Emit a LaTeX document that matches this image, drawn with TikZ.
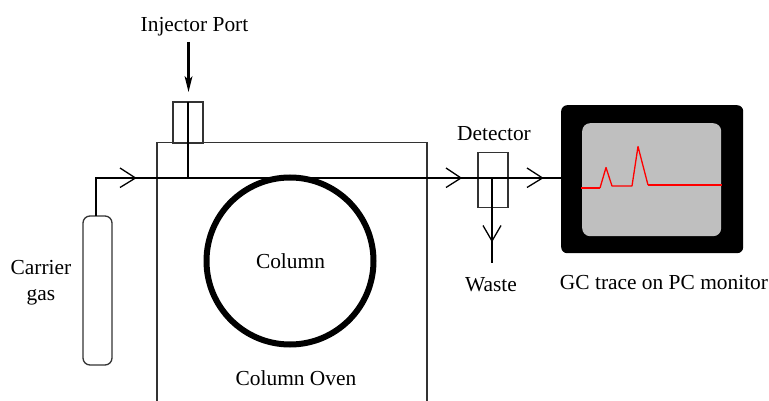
\documentclass[tikz,border=0pt]{standalone}
\usepackage{fontspec}
\setmainfont{Liberation Serif}
\tikzset{
  x=1pt,y=-1pt,
  lbl/.style={inner sep=0pt,align=center,font=\fontsize{21.4}{26}\selectfont},
  box/.style={draw=black!80,line width=1.3pt,minimum width=#1,inner sep=0pt,outer sep=0pt,anchor=north west},
  pipe/.style={line width=2.1pt,black},
  openhead/.style={line width=1.3pt,black},
}
\begin{document}
\begin{tikzpicture}
\useasboundingbox (0,0) rectangle (769,401);
% oven (open at the bottom)
\coordinate (ovenBL) at (157,401);
\coordinate (ovenTL) at (157,142.5);
\coordinate (ovenTR) at (427,142.5);
\coordinate (ovenBR) at (427,401);
\draw[draw=black!80,line width=1.3pt] (ovenBL) -- (ovenTL) -- (ovenTR) -- (ovenBR);
% boxes
\node[box=30pt,minimum height=41pt] (inj) at (173,102) {};
\node[box=30pt,minimum height=55pt] (det) at (478,152.5) {};
\node[box=29pt,minimum height=149pt,rounded corners=7pt] (cyl) at (83,216) {};
% monitor
\node[fill=black,rounded corners=6pt,minimum width=182pt,minimum height=148pt,inner sep=0pt,anchor=north west] (mon) at (561,105) {};
\node[fill=black!25,rounded corners=8pt,minimum width=139pt,minimum height=113pt,inner sep=0pt,anchor=north west] (scr) at (582,123) {};
% column
\node[draw=black,line width=6pt,circle,minimum size=167pt,inner sep=0pt] (col) at (290,261) {};
% pipes
\coordinate (bend) at (96,178);
\coordinate (injjoin) at (188,178);
\coordinate (detjoin) at (492,178);
\coordinate (wasteend) at (492,263);
\coordinate (injtop) at (188,102);
\coordinate (cyltop) at (96,216);
\coordinate (monin) at (561,178);
\coordinate (injarrow) at (188.5,42);
\coordinate (injtip) at (188.5,92);
\draw[pipe,line join=miter] (cyltop) -- (bend) -- (monin);
\draw[pipe] (injtop) -- (injjoin);
\draw[pipe] (detjoin) -- (wasteend);
% injector arrow
\draw[pipe] (injarrow) -- (188.5,82);
\fill (injtip) -- (184.5,76) -- (188.5,80) -- (192.5,76) -- cycle;
% open arrowheads
\draw[openhead] (120,168) -- (135.5,178) -- (120,187.5);
\draw[openhead] (446,168) -- (461,178) -- (446,187.5);
\draw[openhead] (527,168) -- (542.5,178) -- (527,187.5);
\draw[openhead] (483,225.5) -- (492,241) -- (501,225.5);
% trace
\draw[red,line width=2pt] (581,188) -- (600,188);
\draw[red,line width=1.3pt,line join=round] (600,188) -- (606,167.5) -- (612,186) -- (632,186) -- (638,146.5) -- (648,185);
\draw[red,line width=2pt] (648,185) -- (721.5,185);
% labels
\node[lbl] (tInj) at (194.5,27) {Injector Port};
\node[lbl] (tDet) at (494,134) {Detector};
\node[lbl] (tCar) at (41,282.5) {Carrier\\gas};
\node[lbl] (tCol) at (290.5,261.5) {Column};
\node[lbl] (tOven) at (296,378.5) {Column Oven};
\node[lbl] (tWaste) at (491,285) {Waste};
\node[lbl] (tGC) at (664,283) {GC trace on PC monitor};
\end{tikzpicture}
\end{document}
